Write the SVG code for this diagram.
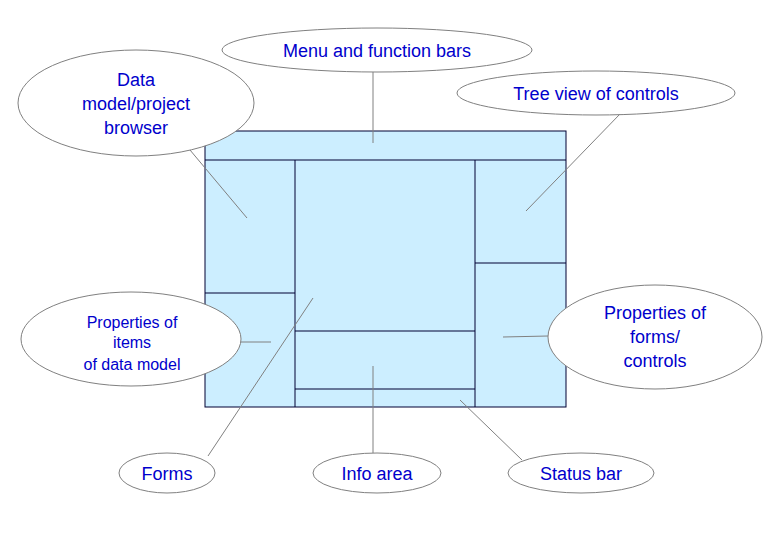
<svg xmlns="http://www.w3.org/2000/svg" width="780" height="540" viewBox="0 0 780 540">
<style>
.e{fill:#fff;stroke:#808080;stroke-width:1}
.t{font-family:"Liberation Sans",Arial,sans-serif;font-size:18px;fill:#0000cc;text-anchor:middle}
.s{font-size:16px}
.c line{stroke:#808080;stroke-width:1}
.p{fill:#cceeff;stroke:#000033;stroke-width:1}
.d{stroke:#000033;stroke-width:1}
</style>
<rect width="780" height="540" fill="#fff"/>
<g id="window">
<rect class="p" x="205" y="131" width="361" height="276"/>
<line class="d" x1="205" y1="160" x2="566" y2="160"/>
<line class="d" x1="295" y1="160" x2="295" y2="407"/>
<line class="d" x1="475" y1="160" x2="475" y2="407"/>
<line class="d" x1="205" y1="293" x2="295" y2="293"/>
<line class="d" x1="475" y1="263" x2="566" y2="263"/>
<line class="d" x1="295" y1="331" x2="475" y2="331"/>
<line class="d" x1="295" y1="389" x2="475" y2="389"/>
</g>
<g class="c" id="connectors">
<line x1="373" y1="72" x2="373" y2="143"/>
<line x1="190" y1="150" x2="247" y2="218"/>
<line x1="620" y1="114" x2="526" y2="211"/>
<line x1="240" y1="342" x2="271" y2="342"/>
<line x1="548" y1="336" x2="503" y2="337"/>
<line x1="208" y1="456" x2="313" y2="298"/>
<line x1="373" y1="453" x2="373" y2="366"/>
<line x1="522" y1="460" x2="460" y2="400"/>
</g>
<g id="menu"><ellipse class="e" cx="377" cy="50" rx="155" ry="22"/><text class="t" x="377" y="57">Menu and function bars</text></g>
<g id="browser"><ellipse class="e" cx="136" cy="103" rx="118" ry="53"/><text class="t" x="136" y="86">Data</text><text class="t" x="136" y="110">model/project</text><text class="t" x="136" y="134">browser</text></g>
<g id="tree"><ellipse class="e" cx="596" cy="93" rx="139" ry="22"/><text class="t" x="596" y="100">Tree view of controls</text></g>
<g id="propitems"><ellipse class="e" cx="131" cy="339" rx="110" ry="47"/><text class="t s" x="132" y="328">Properties of</text><text class="t s" x="132" y="348">items</text><text class="t s" x="132" y="370">of data model</text></g>
<g id="propforms"><ellipse class="e" cx="655" cy="337" rx="107" ry="52"/><text class="t" x="655" y="319">Properties of</text><text class="t" x="655" y="343">forms/</text><text class="t" x="655" y="367">controls</text></g>
<g id="forms"><ellipse class="e" cx="167" cy="473" rx="48" ry="20"/><text class="t" x="167" y="480">Forms</text></g>
<g id="info"><ellipse class="e" cx="377" cy="473" rx="64" ry="20"/><text class="t" x="377" y="480">Info area</text></g>
<g id="status"><ellipse class="e" cx="581" cy="473" rx="73" ry="20"/><text class="t" x="581" y="480">Status bar</text></g>
</svg>
